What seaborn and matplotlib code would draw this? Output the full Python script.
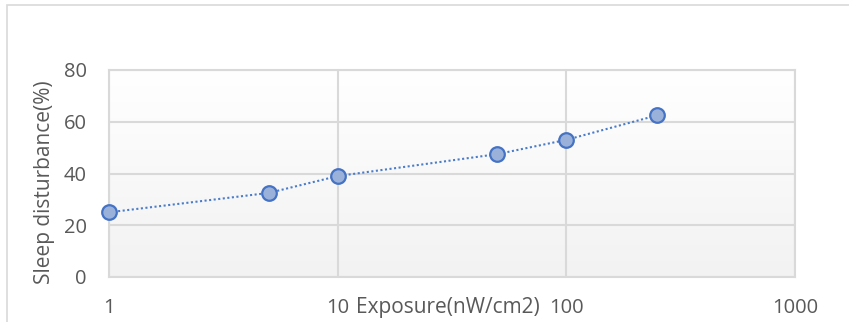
import numpy as np
import pandas as pd
import matplotlib
matplotlib.use('Agg')
import matplotlib.pyplot as plt
import seaborn as sns

# datos
exposure = [1, 5, 10, 50, 100, 250]
disturbance = [25, 32.5, 39, 47.5, 53, 62.5]
x_ticks = [1, 10, 100, 1000]
y_ticks = [0, 20, 40, 60, 80]

df = pd.DataFrame({'Exposure': exposure, 'Disturbance': disturbance})

sns.set_style('white')
plt.rcParams['font.family'] = ['Open Sans', 'DejaVu Sans']
gris = '#595959'

fig = plt.figure(figsize=(8.49, 3.22), dpi=100)
ax = fig.add_axes([109/849, 1-277/322, (795-109)/849, (277-70)/322])

# fondo degradado del area de trazado
grad = np.linspace(1, 0, 256).reshape(-1, 1)
ax.imshow(grad, extent=[0, 1, 0, 1], transform=ax.transAxes, aspect='auto',
          cmap=matplotlib.colors.LinearSegmentedColormap.from_list('g', ['#f2f2f2', '#ffffff']),
          zorder=0)

sns.lineplot(data=df, x='Exposure', y='Disturbance', ax=ax, color='#4a7cc9',
             linestyle=(0, (1, 1.2)), linewidth=1.5, marker='o', markersize=10.5,
             markerfacecolor='#9ab1d9', markeredgecolor='#4472c4', markeredgewidth=1.6,
             zorder=5, clip_on=False)

ax.set_xscale('log')
ax.set_xlim(1, 1000)
ax.set_ylim(0, 80)
ax.set_xticks(x_ticks)
ax.set_xticklabels([str(t) for t in x_ticks])
ax.minorticks_off()
ax.set_yticks(y_ticks)
ax.grid(True, color='#d9d9d9', linewidth=1.5, zorder=1)
ax.set_axisbelow(True)
for s in ax.spines.values():
    s.set_color('#d9d9d9')
    s.set_linewidth(1.5)
ax.tick_params(axis='both', length=0, labelsize=14.5, colors=gris)
ax.tick_params(axis='x', pad=15)
ax.tick_params(axis='y', pad=16)
ax.set_xlabel('')
ax.set_ylabel('Sleep disturbance(%)', fontsize=15, color=gris)
ax.yaxis.set_label_coords(-0.078, 0.46)
fig.text(448/849, 1-308/322, 'Exposure(nW/cm2)', ha='center',
         va='center', fontsize=15, color=gris)

# borde exterior
fig.patches.append(plt.Rectangle((7/849, -0.01), 1.0, 1-5/322+0.01, transform=fig.transFigure,
                                 fill=False, edgecolor='#d9d9d9', linewidth=1.2))

plt.savefig('out.png', dpi=100)
